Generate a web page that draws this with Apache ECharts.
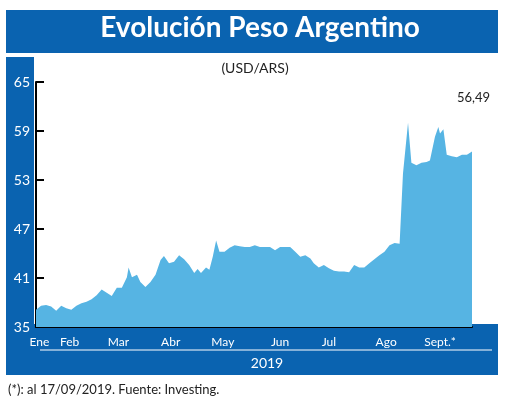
<!DOCTYPE html>
<html>
<head>
<meta charset="utf-8">
<script src="https://cdn.jsdelivr.net/npm/echarts@6/dist/echarts.min.js"></script>
<style>
  html, body { margin: 0; padding: 0; background: #fff; }
  #chart { width: 520px; height: 401px; }
</style>
</head>
<body>
<div id="chart"></div>
<script>
// días desde el 1 de enero y cotización USD/ARS
const days = [0,3,6,9,12,15,18,21,24,27,30,33,36,39,42,45,48,51,54,55,57,60,62,65,68,71,74,76,79,82,85,88,91,94,96,98,101,103,105,107,109,112,115,118,121,124,127,130,133,136,139,142,145,148,151,154,157,160,163,165,168,171,174,177,180,183,186,189,192,195,198,201,204,207,210,213,216,217,218,221,223,226,229,232,234,237,239,240,242,244,247,250,253,256,259];
const values = [37.1,37.6,37.7,37.5,37.0,37.6,37.3,37.1,37.6,37.9,38.1,38.4,38.9,39.6,39.2,38.8,39.8,39.8,41.1,42.3,41.1,41.4,40.5,39.9,40.5,41.4,43.2,43.7,42.8,43.0,43.8,43.3,42.6,41.6,42.1,41.6,42.3,42.0,43.6,45.6,44.2,44.2,44.7,45.0,44.9,44.8,44.8,45.0,44.8,44.8,44.8,44.4,44.8,44.8,44.8,44.2,43.6,43.8,43.4,42.8,42.3,42.6,42.2,41.9,41.8,41.8,41.7,42.6,42.3,42.3,42.8,43.3,43.8,44.2,45.0,45.3,45.2,45.3,53.8,60.0,55.1,54.8,55.1,55.2,55.4,58.3,59.5,58.7,59.2,56.1,55.9,55.8,56.1,56.1,56.49];
const monthDays = [2,20,49,80,111,145,174,208,240];
const monthNames = ['Ene','Feb','Mar','Abr','May','Jun','Jul','Ago','Sept.*'];
const yTicks = [35,41,47,53,59,65];

const BLUE = '#0a63b0';
const FONT = 'Lato';

const chart = echarts.init(document.getElementById('chart'));
chart.setOption({
  animation: false,
  textStyle: { fontFamily: FONT },
  grid: { left: 36, right: 48, top: 82, bottom: 74 },
  graphic: [
    { type: 'rect', z: -10, shape: { x: 6, y: 10, width: 492, height: 43 }, style: { fill: BLUE } },
    { type: 'rect', z: -10, shape: { x: 6, y: 57, width: 28, height: 318 }, style: { fill: BLUE } },
    { type: 'rect', z: -10, shape: { x: 6, y: 324, width: 492, height: 51 }, style: { fill: BLUE } },
    { type: 'line', z: -5, shape: { x1: 40, y1: 350, x2: 492, y2: 350 }, style: { stroke: '#fff', lineWidth: 1 } },
    { type: 'text', left: 'center', top: 14, style: { text: 'Evolución Peso Argentino', fill: '#fff', font: 'bold 28px Lato' } },
    { type: 'text', x: 255, y: 68, style: { text: '(USD/ARS)', fill: '#222', font: '14px Lato', align: 'center', verticalAlign: 'middle' } },
    { type: 'text', x: 490, y: 98, style: { text: '56,49', fill: '#222', font: '13px Lato', align: 'right', verticalAlign: 'middle' } },
    { type: 'text', x: 267, y: 363, style: { text: '2019', fill: '#fff', font: '14px Lato', align: 'center', verticalAlign: 'middle' } },
    { type: 'text', x: 8, y: 390, style: { text: '(*): al 17/09/2019. Fuente: Investing.', fill: '#222', font: '13px Lato', verticalAlign: 'middle' } }
  ],
  xAxis: {
    type: 'value', min: 0, max: 259,
    splitLine: { show: false },
    axisLine: { lineStyle: { color: '#000', width: 2 } },
    axisTick: { show: false },
    axisLabel: {
      customValues: monthDays, margin: 9, color: '#fff', fontSize: 12,
      formatter: v => monthNames[monthDays.indexOf(v)] || ''
    }
  },
  yAxis: {
    type: 'value', min: 35, max: 65, interval: 6,
    splitLine: { show: false },
    axisLine: { show: true, lineStyle: { color: '#000', width: 2 } },
    axisTick: { show: true, inside: true, length: 8, lineStyle: { color: '#000', width: 2 } },
    axisLabel: { color: '#fff', fontSize: 14, margin: 6, formatter: v => yTicks.includes(v) ? String(v) : '' }
  },
  series: [{
    type: 'line',
    data: days.map((d, i) => [d, values[i]]),
    symbol: 'none',
    lineStyle: { width: 0 },
    areaStyle: { color: '#56b4e3', opacity: 1 }
  }]
});
</script>
</body>
</html>
